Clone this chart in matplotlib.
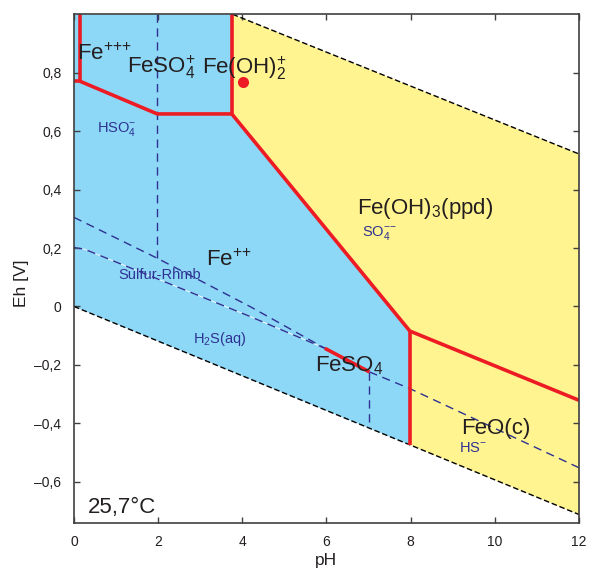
import matplotlib
matplotlib.use("Agg")
import matplotlib.pyplot as plt

plt.rcParams['font.family'] = ['Liberation Sans', 'DejaVu Sans']
plt.rcParams['mathtext.fontset'] = 'custom'
plt.rcParams['mathtext.rm'] = 'Liberation Sans'
plt.rcParams['mathtext.it'] = 'Liberation Sans:italic'
plt.rcParams['mathtext.bf'] = 'Liberation Sans:bold'

# water stability limits (pH, Eh)
water_upper_ph = [3.77, 12.0]
water_upper_eh = [1.0, 0.522]
water_lower_ph = [0.0, 12.0]
water_lower_eh = [0.0, -0.712]

# iron field boundaries
fe3_ph = [0.0, 0.14, 0.14]
fe3_eh = [0.771, 0.771, 1.0]
fe3_fe2_ph = [0.14, 1.98, 3.75]
fe3_fe2_eh = [0.771, 0.659, 0.659]
feoh2_ph = [3.75, 3.75]
feoh2_eh = [0.659, 1.0]
feoh3_ph = [3.75, 7.98, 12.0]
feoh3_eh = [0.659, -0.084, -0.321]
feo_ph = [7.98, 7.98]
feo_eh = [-0.084, -0.474]
feso4_ph = [5.96, 7.02]
feso4_eh = [-0.143, -0.224]

# dissolved iron field and solid field outlines
aq_ph = [0.0, 0.0, 7.98, 7.98, 3.75, 3.75]
aq_eh = [1.0, 0.0, -0.474, -0.084, 0.659, 1.0]
solid_ph = [3.75, 3.77, 12.0, 12.0, 7.98, 7.98, 3.75]
solid_eh = [1.0, 1.0, 0.522, -0.712, -0.474, -0.084, 0.659]

# sulfur species boundaries
s_upper_ph = [0.0, 1.98, 4.18, 5.96]
s_upper_eh = [0.305, 0.165, 0.0, -0.143]
s_lower_ph = [0.0, 0.25, 4.18, 5.96]
s_lower_eh = [0.202, 0.196, -0.034, -0.143]
hs_ph = [7.02, 7.98, 12.0]
hs_eh = [-0.224, -0.281, -0.552]
hso4_ph = [1.98, 1.98]
hso4_eh = [1.0, 0.165]
h2s_ph = [7.02, 7.02]
h2s_eh = [-0.224, -0.405]

point_ph = [4.02]
point_eh = [0.767]

x_ticks = [0, 2, 4, 6, 8, 10, 12]
y_ticks = [-0.6, -0.4, -0.2, 0.0, 0.2, 0.4, 0.6, 0.8]
y_tick_labels = ['\u20130,6', '\u20130,4', '\u20130,2', '0', '0,2', '0,4', '0,6', '0,8']

blue = '#8ed8f7'
yellow = '#fff48f'
red = '#ed1c24'
navy = '#2e3192'
ink = '#231f20'

fig = plt.figure(figsize=(5.89, 5.72), dpi=100)
ax = fig.add_axes([0.1256, 0.0862, 0.8574, 0.8888])

ax.fill(aq_ph, aq_eh, color=blue, lw=0, zorder=1)
ax.fill(solid_ph, solid_eh, color=yellow, lw=0, zorder=1)

ax.plot(water_upper_ph, water_upper_eh, color='black', lw=1.0, dashes=(4, 2), zorder=3)
ax.plot(water_lower_ph, water_lower_eh, color='black', lw=1.0, dashes=(4, 2), zorder=3)

ax.plot(s_lower_ph, s_lower_eh, color='white', lw=0.6, zorder=2)
for xs, ys in [(s_upper_ph, s_upper_eh), (s_lower_ph, s_lower_eh), (hs_ph, hs_eh),
               (hso4_ph, hso4_eh), (h2s_ph, h2s_eh)]:
    ax.plot(xs, ys, color=navy, lw=1.0, dashes=(6, 4), zorder=3)

for xs, ys in [(fe3_ph, fe3_eh), (fe3_fe2_ph, fe3_fe2_eh), (feoh2_ph, feoh2_eh),
               (feoh3_ph, feoh3_eh), (feo_ph, feo_eh), (feso4_ph, feso4_eh)]:
    ax.plot(xs, ys, color=red, lw=2.6, solid_capstyle='butt', zorder=4)

ax.plot(point_ph, point_eh, 'o', color=red, ms=8, mec='none', zorder=5)

big = dict(fontsize=16, color=ink, va='baseline', zorder=6)
small = dict(fontsize=10.5, color=navy, va='baseline', zorder=6)
ax.text(0.07, 0.842, 'Fe$^{{+}{+}{+}}$', **big)
ax.text(1.25, 0.80, 'FeSO$_4^{+}$', **big)
ax.text(3.04, 0.797, 'Fe(OH)$_2^{+}$', **big)
ax.text(3.14, 0.137, 'Fe$^{{+}{+}}$', **big)
ax.text(6.72, 0.315, 'Fe(OH)$_3$(ppd)', **big)
ax.text(5.73, -0.223, 'FeSO$_4$', **big)
ax.text(9.21, -0.435, 'FeO(c)', **big)
ax.text(0.32, -0.707, '25,7\u00b0C', **big)
ax.text(0.55, 0.596, 'HSO$_4^{-}$', **small)
ax.text(6.84, 0.24, 'SO$_4^{{-}{-}}$', **small)
ax.text(1.05, 0.094, 'Sulfur-Rhmb', **small)
ax.text(2.84, -0.126, 'H$_2$S(aq)', **small)
ax.text(9.16, -0.498, 'HS$^{-}$', **small)

ax.set_xlim(0, 12)
ax.set_ylim(-0.74, 1.0)
ax.set_xticks(x_ticks)
ax.set_xticklabels([str(t) for t in x_ticks])
ax.set_yticks(y_ticks)
ax.set_yticklabels(y_tick_labels)
ax.tick_params(direction='in', length=4, width=1.0, color='#404040', labelsize=10,
               labelcolor=ink, top=True, right=True, pad=9)
for s in ax.spines.values():
    s.set_color('#404040')
    s.set_linewidth(1.2)
    s.set_zorder(7)

ax.set_xlabel('pH', fontsize=12.5, color=ink, labelpad=3)
ax.set_ylabel('Eh [V]', fontsize=12.5, color=ink)
ax.yaxis.set_label_coords(-0.09, 0.47)

fig.savefig('out.png', dpi=100)
